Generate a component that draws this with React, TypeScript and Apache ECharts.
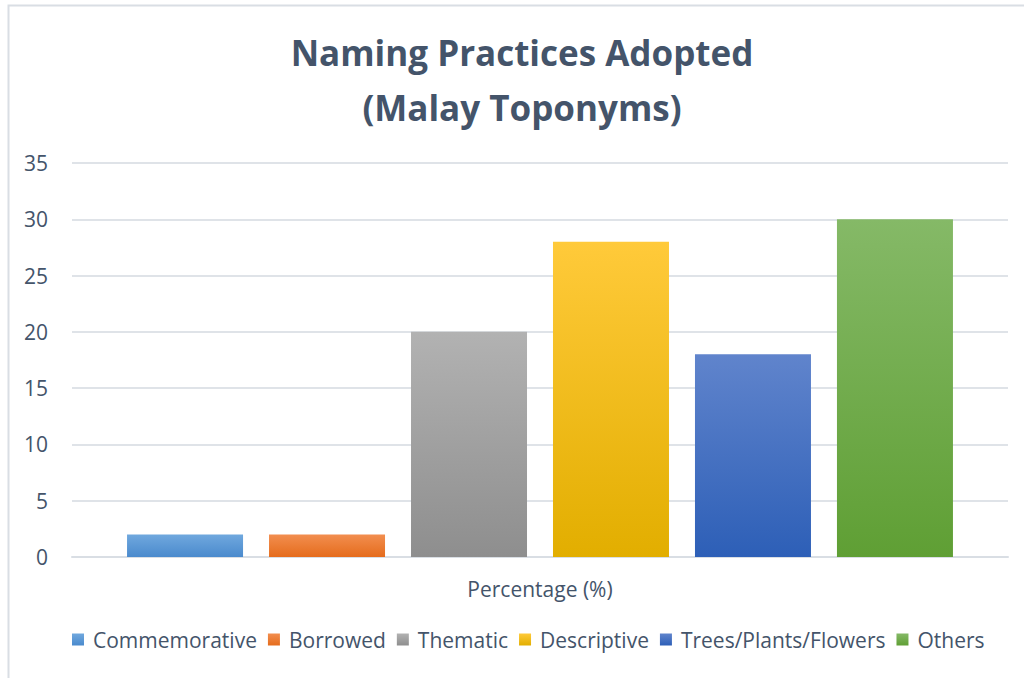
import React, { useEffect, useRef } from "react";
import * as echarts from "echarts";

const categories = ["Percentage (%)"];
const seriesNames = ["Commemorative", "Borrowed", "Thematic", "Descriptive", "Trees/Plants/Flowers", "Others"];
const seriesValues = [2, 2, 20, 28, 18, 30];
const yTicks = [0, 5, 10, 15, 20, 25, 30, 35];
const titleLines = ["Naming Practices Adopted", "(Malay Toponyms)"];
const topColors = ["#70a8de", "#f28e4f", "#b2b2b2", "#ffca3a", "#6084cc", "#85b967"];
const bottomColors = ["#4a8acd", "#e56c1c", "#8e8e8e", "#e2ae00", "#2d5fb7", "#5f9f34"];

const TEXT = "#44546A";
const FONT = "'Open Sans', 'Noto Sans', sans-serif";

export default function App() {
  const ref = useRef<HTMLDivElement>(null);
  useEffect(() => {
    const chart = echarts.init(ref.current!, null, { renderer: "svg" });
    const grad = (i: number) =>
      new echarts.graphic.LinearGradient(0, 0, 0, 1, [
        { offset: 0, color: topColors[i] },
        { offset: 1, color: bottomColors[i] },
      ]);
    chart.setOption({
      animation: false,
      backgroundColor: "#ffffff",
      textStyle: { fontFamily: FONT },
      graphic: [
        {
          type: "polyline",
          shape: { points: [[8.5, 678], [8.5, 5.5], [1024, 5.5]] },
          style: { stroke: "#d9dee4", lineWidth: 2, fill: "none" },
          silent: true,
        },
        ...titleLines.map((t, i) => ({
          type: "text",
          x: 522,
          y: 52 + i * 55,
          silent: true,
          style: {
            text: t,
            fontFamily: FONT,
            fontSize: 35,
            fontWeight: "bold",
            fill: TEXT,
            textAlign: "center",
            textVerticalAlign: "middle",
          },
        })),
      ],
      grid: { left: 72, right: 16, top: 163, bottom: 121 },
      legend: {
        data: seriesNames,
        bottom: 23,
        left: 67,
        icon: "rect",
        itemWidth: 12,
        itemHeight: 12,
        itemGap: 11,
        textStyle: { fontFamily: FONT, fontSize: 21, color: TEXT, padding: [0, 0, 0, 4] },
      },
      xAxis: {
        type: "category",
        data: categories,
        axisLine: { lineStyle: { color: "#d9dee4", width: 2 } },
        axisTick: { show: false },
        axisLabel: { fontFamily: FONT, fontSize: 21, color: TEXT, margin: 21 },
      },
      yAxis: {
        type: "value",
        min: yTicks[0],
        max: yTicks[yTicks.length - 1],
        interval: 5,
        axisLine: { show: false },
        axisTick: { show: false },
        splitLine: { lineStyle: { color: "#dfe3e8", width: 2 } },
        axisLabel: { fontFamily: FONT, fontSize: 21, color: TEXT, margin: 24 },
      },
      series: seriesNames.map((name, i) => ({
        name,
        type: "bar",
        data: [seriesValues[i]],
        barWidth: 116,
        barGap: "22.4%",
        itemStyle: { color: grad(i) },
      })),
    });
    return () => chart.dispose();
  }, []);
  return (
    <div
      ref={ref}
      style={{ position: "fixed", left: 0, top: 0, width: 1024, height: 678 }}
    />
  );
}
